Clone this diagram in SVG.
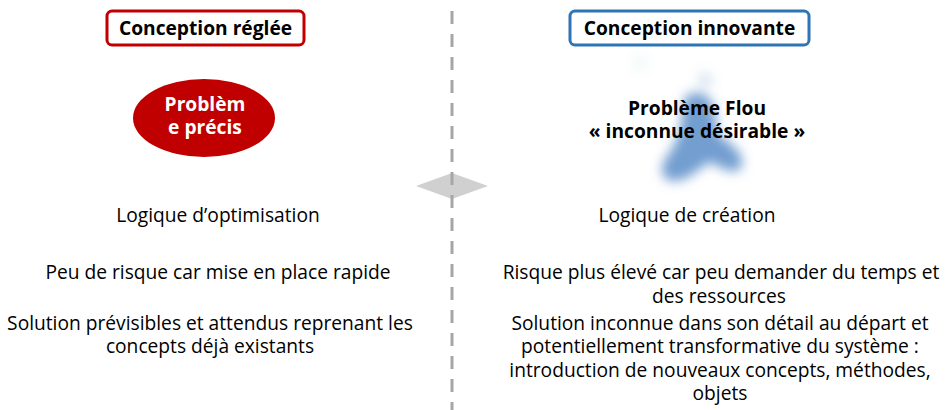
<svg xmlns="http://www.w3.org/2000/svg" width="949" height="410" viewBox="0 0 949 410">
<defs>
<style>
.t{font-family:"Open Sans","Noto Sans",sans-serif;font-size:19.2px;fill:#000;text-anchor:middle}
.b{font-weight:bold}
.w{fill:#fff}
</style>
<filter id="blur" x="-50%" y="-50%" width="200%" height="200%"><feGaussianBlur stdDeviation="6"/></filter>
</defs>
<rect width="949" height="410" fill="#fff"/>
<g id="connectors">
<polygon points="416,186 452,173 488,186 452,199" fill="#d0d0d0"/>
<line x1="452" y1="11" x2="452" y2="410" stroke="#a6a6a6" stroke-width="3" stroke-dasharray="13 10"/>
</g>
<g id="title-left">
<rect x="107" y="11" width="197" height="34" rx="5" fill="#fff" stroke="#c00000" stroke-width="3"/>
<text class="t b" x="205.5" y="35">Conception réglée</text>
</g>
<g id="title-right">
<rect x="570" y="11" width="239" height="34" rx="5" fill="#fff" stroke="#2e75b6" stroke-width="3"/>
<text class="t b" x="689.5" y="35">Conception innovante</text>
</g>
<g id="probleme-precis">
<ellipse cx="204" cy="118" rx="71" ry="39" fill="#c00000"/>
<text class="t b w" x="205" y="111">Problèm</text>
<text class="t b w" x="205" y="134">e précis</text>
</g>
<g id="probleme-flou">
<g filter="url(#blur)" fill="#4f86c4">
<path opacity="0.8" d="M688,95 C699,89 712,95 714,110 L718,134 C731,144 747,155 741,168 C733,176 721,167 710,162 C700,167 690,180 675,181 C661,181 659,169 666,158 C674,147 679,137 681,124 C683,111 682,100 688,95 Z"/>
<circle cx="705" cy="80" r="7" opacity="0.25"/>
<circle cx="640" cy="63" r="7" opacity="0.08"/>
</g>
<text class="t b" x="697" y="115">Problème Flou</text>
<text class="t b" x="697" y="138">« inconnue désirable »</text>
</g>
<g id="left-texts">
<text class="t" x="218" y="222">Logique d’optimisation</text>
<text class="t" x="218" y="279">Peu de risque car mise en place rapide</text>
<text class="t" x="210" y="330">Solution prévisibles et attendus reprenant les</text>
<text class="t" x="210" y="353">concepts déjà existants</text>
</g>
<g id="right-texts">
<text class="t" x="687" y="222">Logique de création</text>
<text class="t" x="721" y="279">Risque plus élevé car peu demander du temps et</text>
<text class="t" x="719" y="303">des ressources</text>
<text class="t" x="720" y="330">Solution inconnue dans son détail au départ et</text>
<text class="t" x="720" y="353">potentiellement transformative du système :</text>
<text class="t" x="720" y="377">introduction de nouveaux concepts, méthodes,</text>
<text class="t" x="720" y="400">objets</text>
</g>
</svg>
